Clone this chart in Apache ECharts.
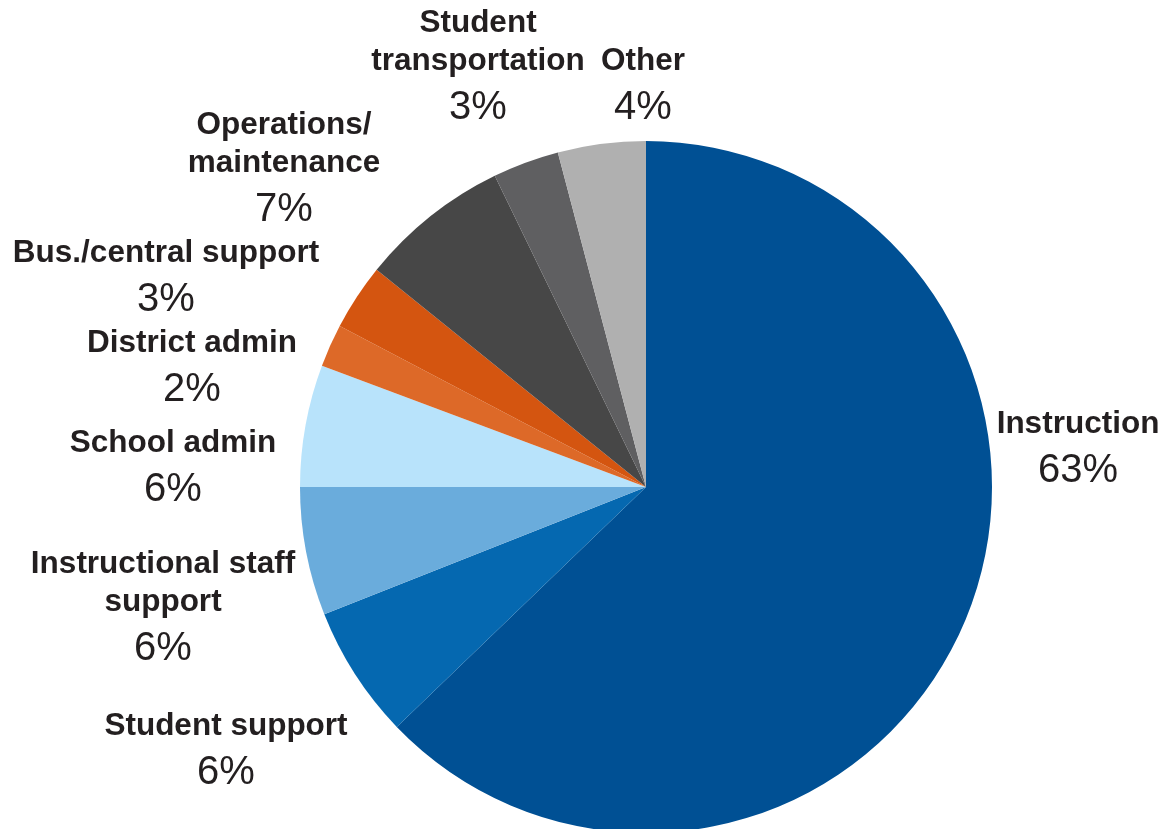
<!DOCTYPE html>
<html>
<head>
<meta charset="utf-8">
<script src="https://cdn.jsdelivr.net/npm/echarts@6/dist/echarts.min.js"></script>
<style>
html,body{margin:0;padding:0;background:#fff;}
#chart{width:1164px;height:829px;}
</style>
</head>
<body>
<div id="chart"></div>
<script>
const categories = ["Instruction", "Student support", "Instructional staff\nsupport", "School admin", "District admin", "Bus./central support", "Operations/\nmaintenance", "Student\ntransportation", "Other"];
const values = [62.8, 6.2, 6.0, 5.7, 2.0, 3.1, 7.0, 3.1, 4.1];
const pctLabels = ["63%", "6%", "6%", "6%", "2%", "3%", "7%", "3%", "4%"];
const colors = ["#005094", "#0568b0", "#6aacdc", "#b8e3fb", "#dd6928", "#d45510", "#474747", "#5f5f61", "#b0b0b0"];

// label anchor positions (center x, top y) — layout only
const labelPos = [[1078, 405], [226, 707], [163, 545], [173, 424], [192, 324], [166, 234], [284, 106], [478, 4], [643, 42]];

const chart = echarts.init(document.getElementById('chart'), null, {renderer: 'canvas'});
const data = categories.map((c, i) => ({name: c, value: values[i], itemStyle: {color: colors[i]}}));

chart.setOption({
  animation: false,
  series: [{
    type: 'pie',
    center: [646, 487],
    radius: [0, 346],
    startAngle: 90,
    clockwise: true,
    data: data,
    itemStyle: {borderWidth: 0},
    labelLine: {show: false},
    label: {
      show: true,
      position: 'outside',
      align: 'center',
      overflow: 'none',
      bleedMargin: 0,
      formatter: function (p) {
        const lines = p.name.split('\n').map(s => '{n|' + s + '}');
        return lines.join('\n') + '\n{p|' + pctLabels[p.dataIndex] + '}';
      },
      rich: {
        n: {fontFamily: 'Liberation Sans, Arial, sans-serif', fontWeight: 'bold', fontSize: 31.5, lineHeight: 38, color: '#231f20', align: 'center'},
        p: {fontFamily: 'Liberation Sans, Arial, sans-serif', fontSize: 40, lineHeight: 56, color: '#231f20', align: 'center'}
      }
    },
    labelLayout: function (params) {
      const pos = labelPos[params.dataIndex];
      return {x: pos[0], y: pos[1], align: 'center', verticalAlign: 'top', hideOverlap: false, moveOverlap: false};
    },
    emphasis: {disabled: true}
  }]
});
</script>
</body>
</html>
